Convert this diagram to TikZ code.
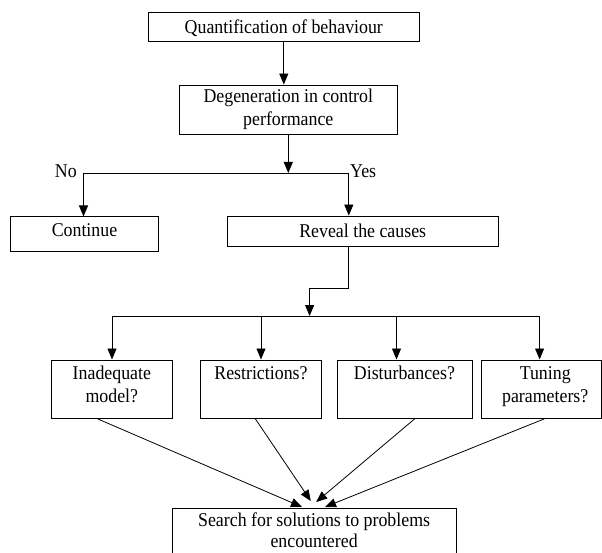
\documentclass[tikz,border=0pt]{standalone}
\usepackage{fontspec}
\setmainfont{Liberation Serif}[FakeStretch=0.915]
\usetikzlibrary{arrows.meta}
\begin{document}
\begin{tikzpicture}[x=1pt,y=-1pt,
  font=\fontsize{19.5}{23}\selectfont,
  box/.style={draw, line width=0.9pt, inner sep=0pt, align=center},
  ttext/.style={anchor=north, align=center, inner sep=0pt, yshift=-6.7pt},
  arr/.style={line width=0.8pt, -{Triangle[length=11pt,width=9pt]}},
  ln/.style={line width=0.8pt}]
\useasboundingbox (0,0) rectangle (602,553);
% boxes
\node[box, minimum width=271.5, minimum height=29, text depth=0pt] (q) at (283.8,26.8) {Quantification of behaviour};
\node[box, minimum width=217.3, minimum height=49] (d) at (288.3,109.5) {Degeneration in control\\performance};
\node[box, minimum width=147.3, minimum height=35, anchor=north west,
  label={[ttext, yshift=-0.3pt]north:Continue}] (c) at (10.4,216.5) {};
\node[box, minimum width=271.5, minimum height=30, text depth=0pt] (r) at (362.7,231) {Reveal the causes};
\node[box, minimum width=121.2, minimum height=58.5, anchor=north west,
  label={[ttext]north:Inadequate\\model?}] (a1) at (50.8,359.5) {};
\node[box, minimum width=121, minimum height=58.5, anchor=north west,
  label={[ttext]north:Restrictions?}] (a2) at (200,359.5) {};
\node[box, minimum width=135, minimum height=58.5, anchor=north west,
  label={[ttext]north:Disturbances?}] (a3) at (336.5,359.5) {};
\node[box, minimum width=119.5, minimum height=58.5, anchor=north west,
  label={[ttext, xshift=4pt]north:Tuning\\parameters?}] (a4) at (481,359.5) {};
\node[box, minimum width=284.3, minimum height=60, anchor=north west,
  label={[ttext, yshift=2.3pt, font=\fontsize{19.5}{21.3}\selectfont]north:Search for solutions to problems\\encountered}] (s) at (171.5,508) {};
% coordinates
\coordinate (j1) at (288.3,173);
\coordinate (jl) at (83.5,173);
\coordinate (jr) at (348.8,173);
\coordinate (k1) at (348.8,288);
\coordinate (k2) at (309.6,288);
\coordinate (m) at (309.6,316);
\coordinate (ml) at (112,316);
\coordinate (mr) at (539.6,316);
% labels
\node[anchor=base east, inner sep=0pt] (no) at (77,178) {No};
\node[anchor=base west, inner sep=0pt] (yes) at (350,178) {Yes};
% connectors
\draw[arr] (q.south) -- (d.north -| q.south);
\draw[arr] (d.south) -- (j1);
\draw[ln] (jl) -- (jr);
\draw[arr] (jl) -- (c.north -| jl);
\draw[arr] (jr) -- (r.north -| jr);
\draw[ln] (r.south -| k1) -- (k1) -- (k2);
\draw[arr] (k2) -- (m);
\draw[ln] (ml) -- (mr);
\draw[arr] (ml) -- (a1.north -| ml);
\draw[arr] (261,316) -- (a2.north -| 261,0);
\draw[arr] (396.5,316) -- (a3.north -| 396.5,0);
\draw[arr] (mr) -- (a4.north -| mr);
\draw[arr] (a1.south -| 97.7,0) -- (302,507);
\draw[arr] (a2.south -| 255.4,0) -- (310.8,501);
\draw[arr] (a3.south -| 414.6,0) -- (316.2,502);
\draw[arr] (a4.south -| 544.2,0) -- (325,507);
\end{tikzpicture}
\end{document}
